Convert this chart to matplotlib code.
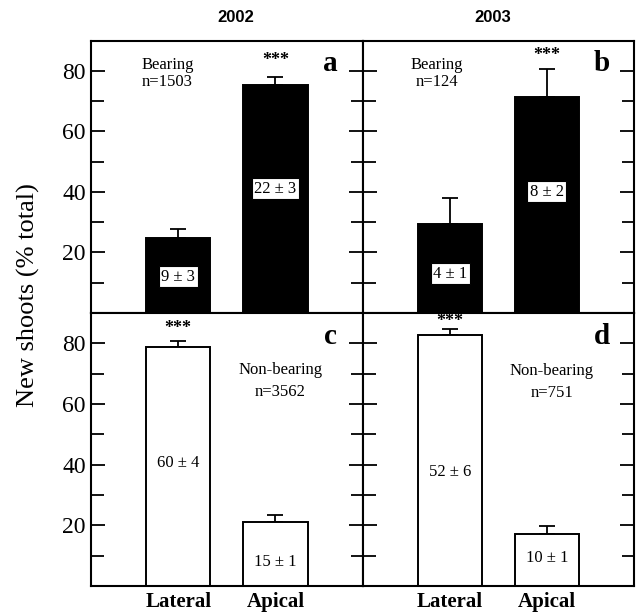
import matplotlib
matplotlib.use("Agg")
import matplotlib.pyplot as plt
from matplotlib.ticker import MultipleLocator

plt.rcParams["font.family"] = ["Liberation Serif", "DejaVu Serif"]

categories = ["Lateral", "Apical"]
years = ["2002", "2003"]

# bearing shoots (top row)
bearing_2002 = [24.9, 75.3]
bearing_2002_err = [2.7, 2.5]
bearing_2003 = [29.3, 71.4]
bearing_2003_err = [8.7, 9.1]

# non-bearing shoots (bottom row)
nonbearing_2002 = [78.8, 21.1]
nonbearing_2002_err = [1.9, 2.3]
nonbearing_2003 = [82.9, 17.2]
nonbearing_2003_err = [1.9, 2.7]

bar_text_2002_b = ["9 \u00b1 3", "22 \u00b1 3"]
bar_text_2003_b = ["4 \u00b1 1", "8 \u00b1 2"]
bar_text_2002_nb = ["60 \u00b1 4", "15 \u00b1 1"]
bar_text_2003_nb = ["52 \u00b1 6", "10 \u00b1 1"]
bar_text_y_b2002 = [12, 41]
bar_text_y_b2003 = [13, 40]
bar_text_y_nb2002 = [40.5, 8]
bar_text_y_nb2003 = [37.5, 9.3]

n_2002_b, n_2003_b = 1503, 124
n_2002_nb, n_2003_nb = 3562, 751

fig = plt.figure(figsize=(6.4, 6.15), dpi=100)

left, mid, right = 90.7 / 640, 363 / 640, 634 / 640
bottom, hmid, top = 1 - 586 / 615, 1 - 313 / 615, 1 - 40.5 / 615
w1, w2 = mid - left, right - mid
h1, h2 = hmid - bottom, top - hmid

ax_a = fig.add_axes([left, hmid, w1, h2])
ax_b = fig.add_axes([mid, hmid, w2, h2])
ax_c = fig.add_axes([left, bottom, w1, h1])
ax_d = fig.add_axes([mid, bottom, w2, h1])

x = [0, 1]
panels = [
    (ax_a, bearing_2002, bearing_2002_err, "black", bar_text_2002_b, bar_text_y_b2002, "a"),
    (ax_b, bearing_2003, bearing_2003_err, "black", bar_text_2003_b, bar_text_y_b2003, "b"),
    (ax_c, nonbearing_2002, nonbearing_2002_err, "white", bar_text_2002_nb, bar_text_y_nb2002, "c"),
    (ax_d, nonbearing_2003, nonbearing_2003_err, "white", bar_text_2003_nb, bar_text_y_nb2003, "d"),
]

for ax, vals, errs, color, texts, text_y, letter in panels:
    ax.errorbar(x, vals, yerr=[[0, 0], errs], fmt="none", ecolor="black",
                elinewidth=1.3, capsize=5.5, capthick=1.3, zorder=1)
    ax.bar(x, vals, width=0.66, color=color, edgecolor="black", linewidth=1.4, zorder=2)
    ax.set_xlim(-0.9, 1.9)
    ax.set_ylim(0, 90)
    ax.yaxis.set_major_locator(MultipleLocator(20))
    ax.yaxis.set_minor_locator(MultipleLocator(10))
    ax.tick_params(axis="y", which="both", direction="in", left=True, right=True,
                   width=1.3, labelsize=17)
    ax.tick_params(axis="y", which="major", length=10)
    ax.tick_params(axis="y", which="minor", length=9)
    ax.tick_params(axis="x", length=0)
    for sp in ax.spines.values():
        sp.set_linewidth(1.5)
    boxed = color == "black"
    for xi, t, ty in zip(x, texts, text_y):
        kw = {}
        if boxed:
            kw["bbox"] = dict(boxstyle="square,pad=0.15", fc="white", ec="black", lw=0.8)
        ax.text(xi, ty, t, ha="center", va="center", fontsize=12, zorder=5, **kw)
    ax.text(0.88, 0.915, letter, transform=ax.transAxes, ha="center", va="center",
            fontsize=21, fontweight="bold")

for ax in (ax_a, ax_b):
    ax.set_xticks([])
for ax in (ax_b, ax_d):
    ax.tick_params(axis="y", labelleft=False)
for ax in (ax_c, ax_d):
    ax.set_xticks(x)
    ax.set_xticklabels(categories, fontsize=15, fontweight="bold")
    ax.tick_params(axis="x", pad=4)

ax_a.set_yticks([20, 40, 60, 80])
ax_c.set_yticks([20, 40, 60, 80])
ax_b.set_yticks([20, 40, 60, 80])
ax_d.set_yticks([20, 40, 60, 80])

# annotations
ax_a.text(-0.11, 79, f"Bearing\nn={n_2002_b}", ha="center", va="center", fontsize=12, linespacing=1.1)
ax_b.text(-0.14, 79, f"Bearing\nn={n_2003_b}", ha="center", va="center", fontsize=12, linespacing=1.1)
ax_c.text(1.05, 67.5, f"Non-bearing\nn={n_2002_nb}", ha="center", va="center", fontsize=12, linespacing=1.5)
ax_d.text(1.05, 67.3, f"Non-bearing\nn={n_2003_nb}", ha="center", va="center", fontsize=12, linespacing=1.5)

ax_a.text(1, 80.5, "***", ha="center", va="bottom", fontsize=13, fontweight="bold")
ax_b.text(1, 82.3, "***", ha="center", va="bottom", fontsize=13, fontweight="bold")
ax_c.text(0, 82, "***", ha="center", va="bottom", fontsize=13, fontweight="bold")
ax_d.text(0, 84.5, "***", ha="center", va="bottom", fontsize=13, fontweight="bold")

fig.text(236 / 640, 1 - 18 / 615, years[0], ha="center", va="center",
         fontsize=12, fontweight="bold", family="Liberation Sans")
fig.text(493 / 640, 1 - 18 / 615, years[1], ha="center", va="center",
         fontsize=12, fontweight="bold", family="Liberation Sans")

fig.text(28 / 640, 1 - 295 / 615, "New shoots (% total)", rotation=90,
         ha="center", va="center", fontsize=19)

fig.savefig("out.png", dpi=100)
